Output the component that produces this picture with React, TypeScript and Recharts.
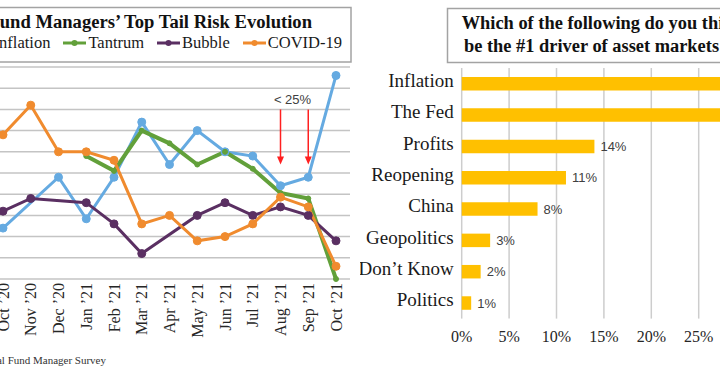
import React from 'react';
import {
  LineChart, Line, XAxis, YAxis, CartesianGrid, Legend, ReferenceLine,
  BarChart, Bar, LabelList,
} from 'recharts';

// left panel: tail risk by month (% of FMS respondents)
const months = ['Oct ’20', 'Nov ’20', 'Dec ’20', 'Jan ’21', 'Feb ’21', 'Mar ’21', 'Apr ’21',
  'May ’21', 'Jun ’21', 'Jul ’21', 'Aug ’21', 'Sep ’21', 'Oct ’21'];
const inflation = [12, null, 24, 14.2, 24, 37, 27, 35, 30, 29, 22, 24, 48];
const tantrum = [null, null, null, 29, 25.5, 35, 32, 27, 30, 26, 20.3, 19, 0];
const bubble = [16, 19, null, 18, 13, 6, null, 15, 18, 15, 17, 15, 9];
const covid = [34, 41, 30, 30, 28, 13, 15, 9, 10, 13, 19.3, 17, 3];
const riskTicks = [0, 5, 10, 15, 20, 25, 30, 35, 40, 45, 50];
const seriesOrder = ['Inflation', 'Tantrum', 'Bubble', 'COVID-19'];

// right panel: #1 driver of asset markets
const drivers = ['Inflation', 'The Fed', 'Profits', 'Reopening', 'China', 'Geopolitics', 'Don’t Know', 'Politics'];
const driverShares = [32, 29, 14, 11, 8, 3, 2, 1];
const shareTicks = [0, 5, 10, 15, 20, 25, 30, 35];

const lineData = months.map((m, i) => ({
  month: m,
  inflation: inflation[i],
  tantrum: tantrum[i],
  bubble: bubble[i],
  covid: covid[i],
}));
const barData = drivers.map((d, i) => ({ name: d, share: driverShares[i] }));

const SERIF = '"Liberation Serif", "Times New Roman", serif';
const SANS = '"Liberation Sans", Arial, sans-serif';
const BLUE = '#65aae1';
const GREEN = '#62a03a';
const PURPLE = '#5a2f62';
const ORANGE = '#f08b2e';
const RED = '#ff2020';

const MonthTick = ({ x, y, payload }: any) => (
  <text x={x} y={y} dx={-4} dy="0.35em" transform={`rotate(-90, ${x}, ${y})`}
    textAnchor="end" fontFamily={SERIF} fontSize={16} fill="#262626">
    {payload.value}
  </text>
);

const PctTick = ({ x, y, payload }: any) => (
  <text x={x} y={y + 23} textAnchor="middle" fontFamily={SERIF} fontSize={16} fill="#262626">
    {payload.value}%
  </text>
);

const DriverTick = ({ x, y, payload }: any) => (
  <text x={x} y={y + 3.5} textAnchor="end" fontFamily={SERIF} fontSize={19} fill="#1a1a1a">
    {payload.value}
  </text>
);

const Arrow = ({ x1, y1, x2, y2, note }: any) => (
  <g>
    <line x1={x1} y1={y1} x2={x2} y2={y2 - 6} stroke={RED} strokeWidth={1.5} />
    <polygon points={`${x2 - 3.5},${y2 - 8} ${x2 + 3.5},${y2 - 8} ${x2},${y2}`} fill={RED} />
    {note && (
      <text x={x1 + 12} y={y1 - 5} textAnchor="middle" fontFamily={SANS} fontSize={13} fill="#404040">
        {note}
      </text>
    )}
  </g>
);

const LegendRow = ({ payload }: any) => {
  const items = [...(payload || [])].sort(
    (a: any, b: any) => seriesOrder.indexOf(a.value) - seriesOrder.indexOf(b.value));
  return (
    <div style={{
      display: 'flex', justifyContent: 'flex-end', alignItems: 'center', gap: 13,
      fontFamily: SERIF, fontSize: 16.5, color: '#1a1a1a', whiteSpace: 'nowrap',
    }}>
      {items.map((p: any) => (
        <span key={p.value} style={{ display: 'flex', alignItems: 'center' }}>
          <svg width={23} height={10}>
            <line x1={0} y1={5} x2={23} y2={5} stroke={p.color} strokeWidth={3} />
            <circle cx={11.5} cy={5} r={3} fill={p.color} />
          </svg>
          <span style={{ marginLeft: 2 }}>{p.value}</span>
        </span>
      ))}
    </div>
  );
};

const App = () => {
  return (
    <div style={{ position: 'absolute', left: 0, top: 0, width: 720, height: 380, overflow: 'hidden', background: '#fff' }}>
      <svg width={720} height={380} style={{ position: 'absolute', left: 0, top: 0 }}>
        <rect x={-10} y={7.5} width={361} height={54.5} fill="none" stroke="#a3a3a3" strokeWidth={1.5} />
        <text x={312} y={28.3} textAnchor="end" fontFamily={SERIF} fontWeight="bold" fontSize={18.6} fill="#111">
          Fund Managers’ Top Tail Risk Evolution
        </text>
        <rect x={447.5} y={8.5} width={300} height={54} fill="none" stroke="#a3a3a3" strokeWidth={1.5} />
        <text x={461.7} y={29.3} fontFamily={SERIF} fontWeight="bold" fontSize={18.4} fill="#111">
          Which of the following do you think will
        </text>
        <text x={464} y={51.5} fontFamily={SERIF} fontWeight="bold" fontSize={18.4} fill="#111">
          be the #1 driver of asset markets in 2022?
        </text>
        <text x={106} y={364} textAnchor="end" fontFamily={SERIF} fontSize={11} fill="#333">
          Source: BofA Global Fund Manager Survey
        </text>
      </svg>

      <div style={{ position: 'absolute', left: -60, top: 0 }}>
        <LineChart width={420} height={380} data={lineData} margin={{ top: 67, right: 10, bottom: 41, left: 0 }}>
          <CartesianGrid vertical={false} stroke="#c4c4c4" strokeWidth={1.5} />
          <XAxis dataKey="month" axisLine={false} tickLine={false} tickSize={0} tickMargin={0}
            height={60} interval={0} padding={{ left: 14, right: 14 }} tick={<MonthTick />} />
          <YAxis width={49} domain={[0, 50]} ticks={riskTicks} interval={0} axisLine={false} tickLine={false}
            tick={{ fontFamily: SERIF, fontSize: 16, fill: '#262626' }} tickFormatter={(v) => `${v}%`} />
          <Legend layout="horizontal" verticalAlign="middle" align="center" content={<LegendRow />}
            itemSorter={(item: any) => seriesOrder.indexOf(item.value)}
            wrapperStyle={{ top: 33, left: 0, width: 402, height: 24 }} />
          <Line dataKey="inflation" name="Inflation" stroke={BLUE} strokeWidth={3} connectNulls
            dot={{ r: 4, fill: BLUE, stroke: BLUE, strokeWidth: 1 }} isAnimationActive={false} />
          <Line dataKey="tantrum" name="Tantrum" stroke={GREEN} strokeWidth={4} connectNulls
            dot={{ r: 2.5, fill: GREEN, stroke: GREEN, strokeWidth: 1 }} isAnimationActive={false} />
          <Line dataKey="bubble" name="Bubble" stroke={PURPLE} strokeWidth={3} connectNulls
            dot={{ r: 4, fill: PURPLE, stroke: PURPLE, strokeWidth: 1 }} isAnimationActive={false} />
          <Line dataKey="covid" name="COVID-19" stroke={ORANGE} strokeWidth={3} connectNulls
            dot={{ r: 4, fill: ORANGE, stroke: ORANGE, strokeWidth: 1 }} isAnimationActive={false} />
          <ReferenceLine segment={[{ x: months[10], y: 40 }, { x: months[10], y: 27 }]} ifOverflow="visible"
            shape={(p: any) => <Arrow {...p} note="< 25%" />} />
          <ReferenceLine segment={[{ x: months[11], y: 40 }, { x: months[11], y: 27 }]} ifOverflow="visible"
            shape={(p: any) => <Arrow {...p} />} />
        </LineChart>
      </div>

      <div style={{ position: 'absolute', left: 360, top: 0 }}>
        <BarChart width={460} height={380} data={barData} layout="vertical"
          margin={{ top: 68, right: 26.5, bottom: 21.4, left: 0 }} barSize={13.5}>
          <CartesianGrid horizontal={false} stroke="#cdcdcd" strokeWidth={1.5} />
          <XAxis type="number" domain={[0, 35]} ticks={shareTicks} axisLine={false} tickLine={false}
            tickSize={0} tickMargin={0} height={40} tick={<PctTick />} />
          <YAxis type="category" dataKey="name" width={101.7} axisLine={false} tickLine={false}
            tickSize={0} tickMargin={8} interval={0} tick={<DriverTick />} />
          <Bar dataKey="share" fill="#ffc000" isAnimationActive={false}>
            <LabelList dataKey="share" position="right" offset={6} formatter={(v: any) => `${v}%`}
              style={{ fill: '#404040', fontSize: 13, fontFamily: SANS }} />
          </Bar>
        </BarChart>
      </div>
    </div>
  );
};

export default App;
